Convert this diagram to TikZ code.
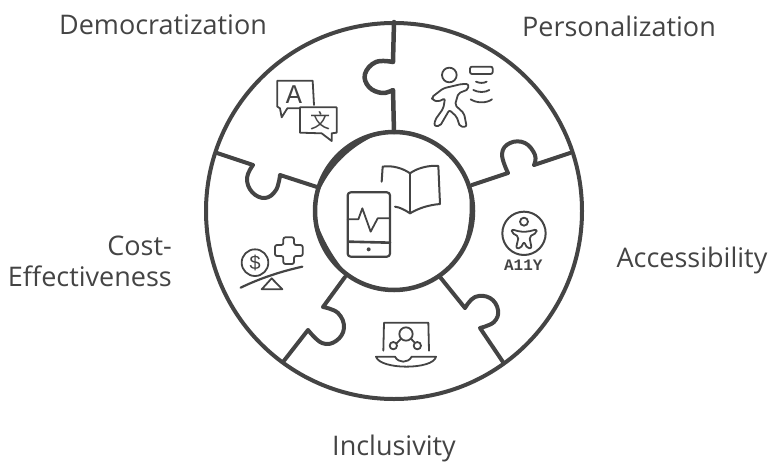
\documentclass[tikz,border=0pt]{standalone}
\usepackage{fontspec}
\setmainfont{Open Sans}
\newfontfamily\cjkicon{Noto Sans CJK SC}
\newfontfamily\monoicon{Liberation Mono}
\usepackage{xcolor}
\definecolor{ink}{HTML}{444444}
\tikzset{rim/.style={draw=ink, line width=4pt, line cap=round, line join=round}}
\tikzset{icon/.style={draw=ink, line width=1.8pt, line cap=round, line join=round}}
\tikzset{lab/.style={text=ink, font=\fontsize{27}{30}\selectfont, inner sep=0pt}}

\begin{document}
\begin{tikzpicture}[x=1pt, y=-1pt]
		\useasboundingbox (0,0) rectangle (771,461);
		\coordinate (hub) at (394,211);

		% wheel
		\draw[rim] (hub) circle[radius=188];
		\draw[rim, line width=4.5pt] (hub) circle[radius=79];
		\begin{scope}[shift={(hub)}]
			\fill[ink] (-95:80) arc (-95:-175:80) .. controls (-149:80.5) and (-121:80.5) .. cycle;
			\fill[ink] (-25:80) arc (-25:35:80) .. controls (15:78.8) and (-5:78.8) .. cycle;
			\fill[ink] (178:80) arc (178:122:80) .. controls (140.7:77.5) and (159.3:77.5) .. cycle;
		\end{scope}

		% seams
		\draw[rim, line width=4.5pt] (394,22) -- (393,62) plot[smooth, tension=0.7] coordinates {(393,62) (376,62) (365,74) (369,87) (382,93) (393,90)} -- (394,132);
		\draw[rim] (570,153) -- (534,165) plot[smooth, tension=0.7] coordinates {(534,165) (535,155) (525,143) (510,143) (502,154) (508,173)} -- (472,185);
		\draw[rim] (440,277) -- (465,308) plot[smooth, tension=0.7] coordinates {(465,308) (475,297) (490,298) (498,310) (494,322) (480,328)} -- (503,362);
		\draw[rim] (345,277) -- (323,307) plot[smooth, tension=0.7] coordinates {(323,307) (338,313) (344,328) (336,341) (322,343) (308,330)} -- (283,362);
		\draw[rim] (217,153) -- (253,165) plot[smooth, tension=0.7] coordinates {(253,165) (247,178) (252,192) (265,198) (276,190) (280,175)} -- (317,187);

		% translate
		\begin{scope}[shift={(200,10)}, scale=1/3]
			\draw[icon] (300,295) -- (262,295) -- (245,322) -- (240,295) -- (232,290) -- (232,212) -- (338,212) -- (342,285);
			\draw[icon] (300,292) -- (300,368) -- (365,370) -- (395,393) -- (395,370) -- (410,368) -- (410,292) -- cycle;
			\node[inner sep=0pt, text=ink, font=\fontsize{27}{27}\monoicon] (letter) at (282,255) {A};
			\node[inner sep=0pt, text=ink, font=\fontsize{20}{20}\cjkicon] (glyph) at (362,332) {文};
		\end{scope}

		% runner
		\begin{scope}[shift={(390,10)}, scale=1/3]
			\draw[icon] (178,195) circle[radius=22];
			\draw[icon, rounded corners=2pt] (125,262) -- (160,235) -- (215,222) -- (235,222) -- (235,238) -- (205,250) -- (195,285) -- (222,310) -- (230,350) -- (210,350) -- (200,320) -- (178,300) -- (150,348) -- (133,348) -- (135,330) -- (160,295) -- (165,265) -- (145,275) -- (128,270) -- cycle;
			\draw[icon, rounded corners=2pt] (240,170) rectangle (308,192);
			\draw[icon] (258,215) .. controls (270,220) and (280,220) .. (290,215);
			\draw[icon] (250,240) .. controls (265,248) and (285,248) .. (298,240);
			\draw[icon] (242,268) .. controls (260,280) and (290,280) .. (306,268);
		\end{scope}

		% phone and book
		\begin{scope}[shift={(310,130)}, scale=1/3]
			\draw[icon, line width=2.2pt, rounded corners=3pt] (113,187) rectangle (240,380);
			\draw[icon] (113,268) -- (145,268) -- (157,235) -- (182,305) -- (203,265) -- (240,265);
			\draw[icon, line width=2.6pt] (115,335) -- (240,338);
			\fill[ink] (176,358) circle[radius=6];
			\draw[icon, line width=2pt] (215,155) -- (218,110) .. controls (245,105) and (280,115) .. (300,130) .. controls (320,115) and (355,105) .. (385,108) -- (390,222) .. controls (355,225) and (325,235) .. (300,250) .. controls (285,240) and (270,232) .. (255,230);
			\draw[icon, line width=2pt] (300,130) -- (300,250);
		\end{scope}

		% access
		\begin{scope}[shift={(340,200)}, scale=1/3]
			\draw[icon, line width=2pt] (552,100) circle[radius=65];
			\draw[icon] (552,65) circle[radius=12];
			\draw[icon, rounded corners=2pt] (515,88) -- (540,95) -- (564,95) -- (590,88) -- (590,98) -- (568,110) -- (575,145) -- (562,145) -- (552,125) -- (542,145) -- (528,145) -- (536,110) -- (515,98) -- cycle;
			\node[inner sep=0pt, text=ink, font=\fontsize{16}{16}\monoicon\bfseries] (ally) at (550,197) {A11Y};
		\end{scope}

		% laptop
		\begin{scope}[shift={(340,200)}, scale=1/3]
			\draw[icon] (130,452) -- (132,368) -- (265,368) -- (267,452);
			\draw[icon] (198,402) circle[radius=20];
			\draw[icon] (160,437) circle[radius=11];
			\draw[icon] (232,437) circle[radius=11];
			\draw[icon] (170,430) -- (183,416) (213,416) -- (224,428);
			\draw[icon] (108,470) -- (165,470) .. controls (175,490) and (205,490) .. (215,470) -- (288,470) .. controls (280,510) and (120,510) .. (108,470) -- cycle;
		\end{scope}

		% scales
		\begin{scope}[shift={(190,190)}, scale=1/3]
			\draw[icon] (195,218) circle[radius=40];
			\node[inner sep=0pt, text=ink, font=\fontsize{20}{20}\monoicon] (dollar) at (195,218) {\$};
			\draw[icon, rounded corners=2pt] (280,142) -- (312,142) -- (312,165) -- (338,165) -- (338,198) -- (312,198) -- (312,222) -- (280,222) -- (280,198) -- (255,198) -- (255,165) -- (280,165) -- cycle;
			\draw[icon, line width=2.2pt] (152,293) .. controls (210,265) and (270,245) .. (337,230);
			\draw[icon] (245,265) -- (215,298) -- (277,298) -- cycle;
		\end{scope}

		% labels
		\node[lab] (demo) at (163,25) {Democratization};
		\node[lab] (pers) at (619,26) {Personalization};
		\node[lab] (acce) at (692,260) {Accessibility};
		\node[lab, anchor=east] (cost) at (172,246) {Cost-};
		\node[lab, anchor=east] (effe) at (172,276) {Effectiveness};
		\node[lab] (incl) at (394,448) {Inclusivity};
		\end{tikzpicture}
\end{document}
